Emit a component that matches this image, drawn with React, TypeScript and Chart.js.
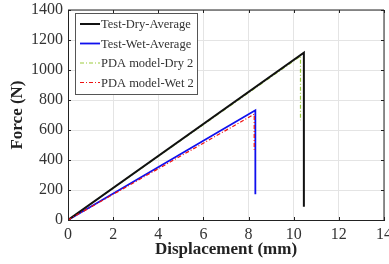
import React, { useEffect, useRef } from "react";
import { Chart, registerables } from "chart.js";
Chart.register(...registerables);

const seriesNames = ["Test-Dry-Average", "Test-Wet-Average", "PDA model-Dry 2", "PDA model-Wet 2"];
const testDryX = [0, 10.45, 10.45];
const testDryY = [0, 1115, 88];
const testWetX = [0, 8.3, 8.3];
const testWetY = [0, 732, 172];
const pdaDryX = [0, 10.3, 10.3];
const pdaDryY = [0, 1092, 665];
const pdaWetX = [0, 8.25, 8.25];
const pdaWetY = [0, 705, 468];
const xTicks = [0, 2, 4, 6, 8, 10, 12, 14];
const yTicks = [0, 200, 400, 600, 800, 1000, 1200, 1400];

const FONT = "'Liberation Serif', 'Times New Roman', serif";

const pts = (xs: number[], ys: number[]) => xs.map((x, i) => ({ x, y: ys[i] }));

const legendPlugin = {
  id: "insideLegend",
  afterDraw(chart: any) {
    const ctx = chart.ctx;
    const area = chart.chartArea;
    const x0 = area.left + 7;
    const y0 = area.top + 3;
    const w = 122;
    const rowH = 19.5;
    const h = 81;
    ctx.save();
    ctx.fillStyle = "#ffffff";
    ctx.fillRect(x0, y0, w, h);
    ctx.strokeStyle = "#555";
    ctx.lineWidth = 1;
    ctx.strokeRect(x0 + 0.5, y0 + 0.5, w, h);
    ctx.font = `12.5px ${FONT}`;
    ctx.textBaseline = "middle";
    [0, 1, 2, 3].forEach((di, i) => {
      const ds = chart.data.datasets[di];
      const cy = y0 + 11 + i * rowH;
      ctx.strokeStyle = ds.borderColor;
      ctx.lineWidth = ds.borderWidth;
      ctx.setLineDash(ds.borderDash || []);
      ctx.beginPath();
      ctx.moveTo(x0 + 5, cy);
      ctx.lineTo(x0 + 25, cy);
      ctx.stroke();
      ctx.setLineDash([]);
      ctx.fillStyle = "#333";
      ctx.fillText(ds.label, x0 + 26, cy + 1);
    });
    ctx.restore();
  },
};

const borderPlugin = {
  id: "boxBorder",
  afterDatasetsDraw(chart: any) {
    const ctx = chart.ctx;
    const a = chart.chartArea;
    ctx.save();
    ctx.strokeStyle = "#222";
    ctx.lineWidth = 1;
    ctx.beginPath();
    ctx.moveTo(a.left, a.top);
    ctx.lineTo(a.right, a.top);
    ctx.lineTo(a.right, a.bottom);
    ctx.stroke();
    const ys = chart.scales.y;
    yTicks.forEach((v) => {
      const py = Math.round(ys.getPixelForValue(v)) + 0.5;
      ctx.beginPath();
      ctx.moveTo(a.right, py);
      ctx.lineTo(a.right - 3, py);
      ctx.moveTo(a.left, py);
      ctx.lineTo(a.left + 3, py);
      ctx.stroke();
    });
    const xs = chart.scales.x;
    xTicks.forEach((v) => {
      const px = Math.round(xs.getPixelForValue(v)) + 0.5;
      ctx.beginPath();
      ctx.moveTo(px, a.top);
      ctx.lineTo(px, a.top + 3);
      ctx.moveTo(px, a.bottom);
      ctx.lineTo(px, a.bottom - 3);
      ctx.stroke();
    });
    ctx.restore();
  },
};

export default function App() {
  const ref = useRef<HTMLCanvasElement>(null);
  useEffect(() => {
    if (!ref.current) return;
    const chart = new Chart(ref.current, {
      type: "scatter",
      data: {
        datasets: [
          { label: seriesNames[0], data: pts(testDryX, testDryY), borderColor: "#111111", borderWidth: 2, showLine: true, pointRadius: 0, order: 1 },
          { label: seriesNames[1], data: pts(testWetX, testWetY), borderColor: "#1010ee", borderWidth: 1.8, showLine: true, pointRadius: 0, order: 2 },
          { label: seriesNames[2], data: pts(pdaDryX, pdaDryY), borderColor: "#9ccc3c", borderWidth: 1.2, borderDash: [4, 2, 1, 2], showLine: true, pointRadius: 0, order: 3 },
          { label: seriesNames[3], data: pts(pdaWetX, pdaWetY), borderColor: "#ee1111", borderWidth: 1.2, borderDash: [4, 2, 1, 2], showLine: true, pointRadius: 0, order: 0 },
        ],
      },
      options: {
        animation: false,
        responsive: false,
        maintainAspectRatio: false,
        layout: { padding: { left: 7, right: 5, top: 10, bottom: 0 } },
        plugins: { legend: { display: false }, tooltip: { enabled: false } },
        scales: {
          x: {
            type: "linear",
            min: 0,
            max: 14,
            afterBuildTicks: (s: any) => { s.ticks = xTicks.map((v) => ({ value: v })); },
            afterFit: (s: any) => { s.height = 44; s.paddingLeft = 0; s.paddingRight = 0; },
            ticks: { color: "#333", font: { family: FONT, size: 16 }, padding: 5, maxRotation: 0, callback: (v: any) => String(v) },
            grid: { color: "#e4e4e4", drawTicks: false },
            border: { color: "#222", width: 1 },
            title: { display: true, text: "Displacement (mm)", color: "#222", font: { family: FONT, size: 17, weight: "bold" }, padding: { top: 0, bottom: 4 } },
          },
          y: {
            type: "linear",
            min: 0,
            max: 1400,
            afterBuildTicks: (s: any) => { s.ticks = yTicks.map((v) => ({ value: v })); },
            afterFit: (s: any) => { s.width = 61; s.paddingTop = 0; s.paddingBottom = 0; },
            ticks: { color: "#333", font: { family: FONT, size: 16 }, padding: 5, callback: (v: any) => String(v) },
            grid: { color: "#e4e4e4", drawTicks: false },
            border: { color: "#222", width: 1 },
            title: { display: true, text: "Force (N)", color: "#222", font: { family: FONT, size: 17, weight: "bold" }, padding: { top: 0, bottom: 0 } },
          },
        },
      },
      plugins: [borderPlugin, legendPlugin],
    } as any);
    return () => chart.destroy();
  }, []);
  return (
    <div style={{ position: "fixed", left: 0, top: 0, width: 389, height: 264, background: "#fff" }}>
      <canvas ref={ref} width={389} height={264} style={{ display: "block" }} />
    </div>
  );
}
